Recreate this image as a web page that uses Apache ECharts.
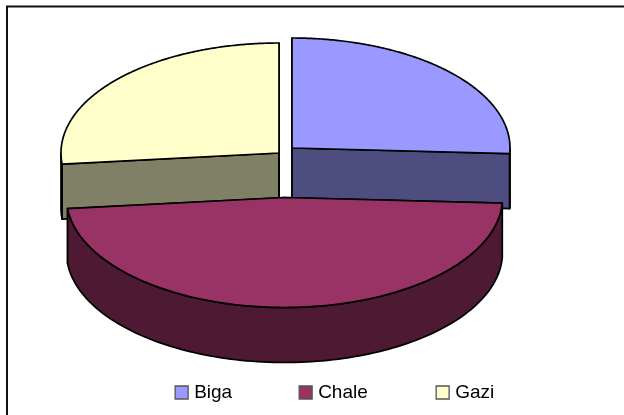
<!DOCTYPE html>
<html>
<head>
<meta charset="utf-8">
<style>html,body{margin:0;padding:0;background:#fff}#c{width:624px;height:415px}</style>
<script src="https://cdn.jsdelivr.net/npm/echarts@6/dist/echarts.min.js"></script>
</head>
<body>
<div id="c"></div>
<script>
const categories = ['Biga', 'Chale', 'Gazi'];
const values = [25.8, 47.6, 26.6];
const topColors = ['#9999FF', '#993366', '#FFFFCC'];
const wallColors = ['#4D4D80', '#4D1933', '#808066'];
const centers = [[292, 148], [284.5, 197.5], [279, 153]];
const legendLeft = [174.5, 298.5, 435.5];

const RX = 218, RY = 110, DEPTH = 55;
const total = values.reduce((a, b) => a + b, 0);
const pt = (c, t, dy) => [c[0] + RX * Math.sin(t), c[1] - RY * Math.cos(t) + (dy || 0)];
const line = { stroke: '#000', lineWidth: 1.7, lineJoin: 'round' };

function sliceRender(idx) {
  return function () {
    const before = values.slice(0, idx).reduce((a, b) => a + b, 0);
    const a0 = before / total * 2 * Math.PI;
    const a1 = (before + values[idx]) / total * 2 * Math.PI;
    const c = centers[idx];
    const children = [];
    const poly = (points, fill) => children.push({
      type: 'polygon', shape: { points }, style: Object.assign({ fill }, line)
    });
    [a0, a1].forEach(t => {
      poly([c, pt(c, t), pt(c, t, DEPTH), [c[0], c[1] + DEPTH]], wallColors[idx]);
    });
    const lo = Math.max(a0, Math.PI / 2), hi = Math.min(a1, Math.PI * 1.5);
    if (hi > lo) {
      const top = [], bottom = [];
      const n = 120;
      for (let i = 0; i <= n; i++) {
        const t = lo + (hi - lo) * i / n;
        top.push(pt(c, t));
        bottom.unshift(pt(c, t, DEPTH));
      }
      poly(top.concat(bottom), wallColors[idx]);
    }
    const face = [c];
    const m = 180;
    for (let i = 0; i <= m; i++) face.push(pt(c, a0 + (a1 - a0) * i / m));
    poly(face, topColors[idx]);
    return { type: 'group', children };
  };
}

const drawOrder = { Biga: 1, Gazi: 2, Chale: 3 };
const chart = echarts.init(document.getElementById('c'), null, { renderer: 'canvas' });
chart.setOption({
  animation: false,
  backgroundColor: '#fff',
  legend: categories.map((name, i) => ({
    left: legendLeft[i], top: 383,
    data: [{ name, icon: 'rect', itemStyle: { color: topColors[i], borderColor: '#555', borderWidth: 1.3 } }],
    itemWidth: 13, itemHeight: 13, padding: 0, selectedMode: false,
    textStyle: { fontFamily: 'Liberation Sans', fontSize: 19, color: '#000', padding: [2, 0, 0, 1] }
  })),
  graphic: [{
    type: 'polyline', silent: true,
    shape: { points: [[7, 415], [7, 6.5], [624, 6.5]] },
    style: { stroke: '#111', lineWidth: 2, fill: 'none' }
  }],
  series: categories.map((name, i) => ({
    type: 'custom', name, coordinateSystem: 'none', silent: true,
    z: drawOrder[name],
    itemStyle: { color: topColors[i] },
    data: [[values[i]]],
    renderItem: sliceRender(i)
  }))
});
</script>
</body>
</html>
